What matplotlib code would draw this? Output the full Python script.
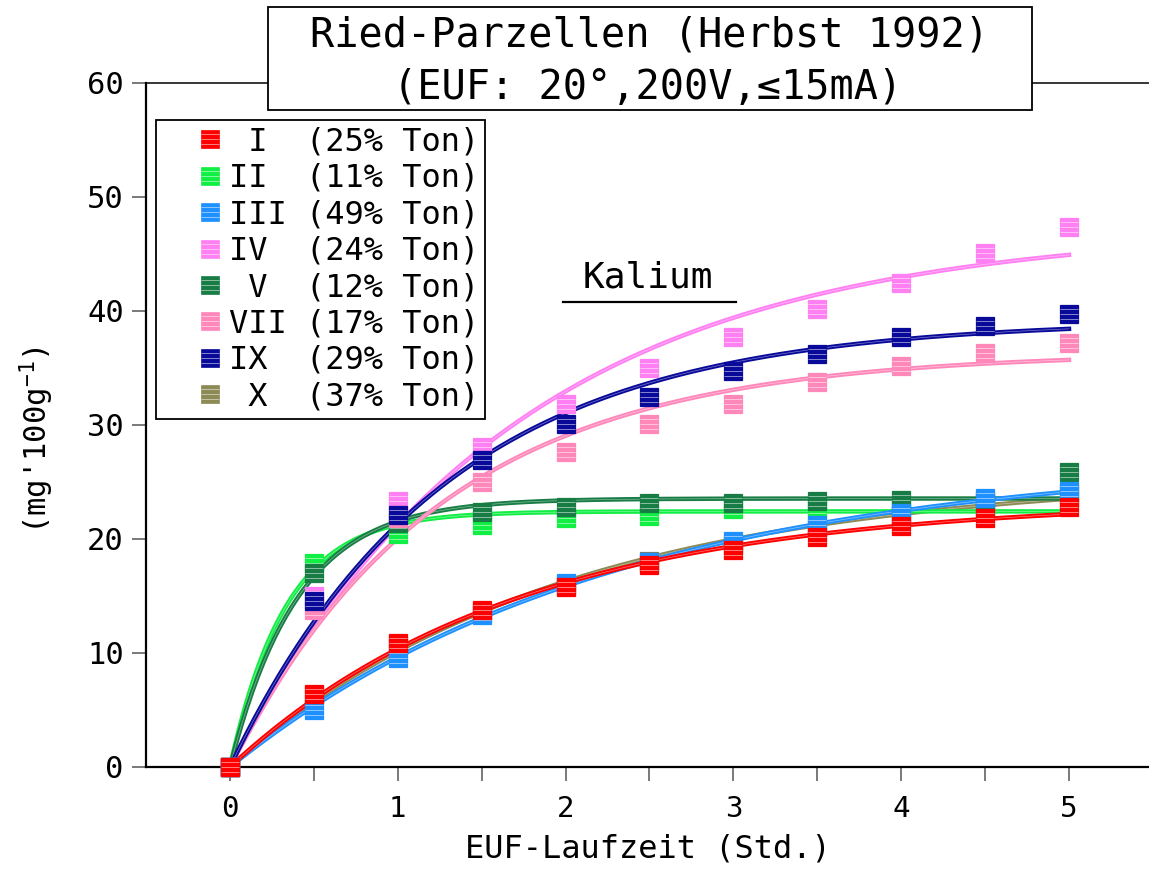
import numpy as np
import matplotlib.pyplot as plt
from matplotlib.path import Path
from matplotlib.lines import Line2D
from matplotlib.patches import Rectangle
from matplotlib.legend_handler import HandlerTuple

plt.rcParams['font.family'] = ['DejaVu Sans Mono', 'DejaVu Sans']
plt.rcParams['mathtext.fontset'] = 'custom'
plt.rcParams['mathtext.rm'] = 'DejaVu Sans Mono'
plt.rcParams['mathtext.it'] = 'DejaVu Sans Mono'
plt.rcParams['mathtext.default'] = 'rm'

# EUF run time in hours
hours = [0, 0.5, 1, 1.5, 2, 2.5, 3, 3.5, 4, 4.5, 5]

# plot names, clay content and colours
plot_names = ['I', 'II', 'III', 'IV', 'V', 'VII', 'IX', 'X']
clay_pct = [25, 11, 49, 24, 12, 17, 29, 37]
colors = ['#ff0000', '#11ee44', '#1e90ff', '#ff80f2',
          '#187d45', '#ff88bb', '#0a0a9a', '#8c8a55']

# cumulative extracted potassium, mg/100g
k_I = [0, 6.4, 10.9, 13.8, 15.8, 17.7, 19.0, 20.2, 21.1, 21.8, 22.8]
k_II = [0, 17.9, 20.4, 21.2, 21.8, 22.0, 22.6, 22.7, 22.8, 22.8, 23.5]
k_III = [0, 5.0, 9.6, 13.3, 16.1, 18.0, 19.8, 21.2, 22.3, 23.6, 24.2]
k_IV = [0, 15.0, 23.3, 28.1, 31.8, 35.0, 37.7, 40.2, 42.5, 45.1, 47.4]
k_V = [0, 17.0, 21.4, 22.4, 22.8, 23.2, 23.2, 23.3, 23.4, 23.3, 25.9]
k_VII = [0, 13.8, 21.8, 25.0, 27.6, 30.1, 31.8, 33.8, 35.2, 36.3, 37.2]
k_IX = [0, 14.6, 22.1, 26.9, 30.1, 32.5, 34.7, 36.2, 37.7, 38.7, 39.7]
k_X = [0, 6.3, 10.7, 13.6, 16.0, 18.1, 19.6, 21.0, 22.0, 23.2, 24.0]
series = [k_I, k_II, k_III, k_IV, k_V, k_VII, k_IX, k_X]

# drawing order, first one ends up at the bottom
draw_order = [7, 1, 4, 3, 5, 6, 2, 0]

# horizontal white stripes drawn over the square markers
STRIPES = Path([(-1, -0.5), (1, -0.5), (-1, 0), (1, 0), (-1, 0.5), (1, 0.5)],
               [Path.MOVETO, Path.LINETO] * 3)
MS = 13


def sat_fit(t, y):
    """least squares fit of y = a*(1 - exp(-b*t)), grid over b"""
    t = np.asarray(t, float)
    y = np.asarray(y, float)
    best = None
    for b in np.linspace(0.05, 6, 3000):
        f = 1 - np.exp(-b * t)
        a = (f @ y) / (f @ f)
        err = np.sum((a * f - y) ** 2)
        if best is None or err < best[0]:
            best = (err, a, b)
    return best[1], best[2]


def legend_name(name):
    if len(name) == 1:
        return ' ' + name + ' '
    return name.ljust(3)


fig = plt.figure(figsize=(11.49, 8.69), dpi=100)
ax = fig.add_axes([146 / 1149, 102 / 869, 1003 / 1149, 684 / 869])

tt = np.linspace(0, 5, 300)
for i in draw_order:
    y, c = series[i], colors[i]
    a, b = sat_fit(hours, y)
    yy = a * (1 - np.exp(-b * tt))
    ax.plot(tt, yy, color=c, lw=3.2, zorder=2, clip_on=False)
    ax.plot(tt, yy, color='white', lw=0.5, alpha=0.45, zorder=2, clip_on=False)

for i in draw_order:
    y, c = series[i], colors[i]
    edge = '#7a7a66' if i == 7 else c
    ax.plot(hours, y, ls='none', marker='s', ms=MS, mfc=c, mec=edge,
            mew=0.9, zorder=3, clip_on=False)
    ax.plot(hours, y, ls='none', marker=STRIPES, ms=MS, mec='white',
            mew=0.7, alpha=0.5, zorder=3, clip_on=False)

ax.set_xlim(-0.5, (1149 - 230) / 167.8)
ax.set_ylim(0, 60)
ax.set_xticks(range(6))
ax.set_xticks(np.arange(0.5, 5, 1), minor=True)
ax.set_yticks(range(0, 61, 10))
ax.tick_params(axis='both', which='both', direction='out', length=10,
               width=1.1, color='#555555')
ax.tick_params(axis='y', labelsize=22, pad=6)
ax.tick_params(axis='x', labelsize=21, pad=10)

ax.spines['right'].set_visible(False)
ax.spines['left'].set_linewidth(1.6)
ax.spines['bottom'].set_linewidth(1.6)
ax.spines['top'].set_linewidth(1.1)

ax.set_xlabel('EUF-Laufzeit (Std.)', fontsize=23, labelpad=8)
ax.set_ylabel("(mg'100g$^{-1}$)", fontsize=22)
ax.yaxis.set_label_coords(-0.09, 0.478)

# element name with underline
ax.text(2.49, 42.9, 'Kalium', fontsize=26, ha='center', va='center')
ax.add_line(Line2D([0.4155, 0.588], [0.68, 0.68], transform=ax.transAxes,
                   color='black', lw=1.6))

# legend: square marker placed in the right half of the handle box
spacer = Line2D([], [], ls='none')
handles = []
labels = []
for name, pct, c in zip(plot_names, clay_pct, colors):
    sq = Line2D([], [], ls='none', marker='s', ms=MS, mfc=c, mec=c, mew=0.5)
    st = Line2D([], [], ls='none', marker=STRIPES, ms=MS, mec='white',
                mew=0.7, alpha=0.5)
    handles.append((spacer, sq, spacer, st))
    labels.append(f'{legend_name(name)} ({pct}% Ton)')

leg = ax.legend(handles, labels, loc='upper left',
                bbox_to_anchor=(156 / 1149, 1 - 120 / 869),
                bbox_transform=fig.transFigure, borderaxespad=0,
                fontsize=23, frameon=True, fancybox=False, framealpha=1,
                edgecolor='black', borderpad=0.2, labelspacing=0.17,
                handlelength=2.0, handletextpad=0.07,
                handler_map={tuple: HandlerTuple(ndivide=2, pad=0)})
leg.get_frame().set_linewidth(1.3)

# title box over the top spine
fig.patches.append(Rectangle((268 / 1149, 1 - 110 / 869), 764 / 1149, 103 / 869,
                             transform=fig.transFigure, facecolor='white',
                             edgecolor='black', lw=1.3, zorder=5))
fig.text(650 / 1149, 1 - 36 / 869, 'Ried-Parzellen (Herbst 1992)',
         fontsize=29, ha='center', va='center', zorder=6)
fig.text(648 / 1149, 1 - 88 / 869, '(EUF: 20°,200V,≤15mA)',
         fontsize=29, ha='center', va='center', zorder=6)

fig.savefig('out.png', dpi=100)
